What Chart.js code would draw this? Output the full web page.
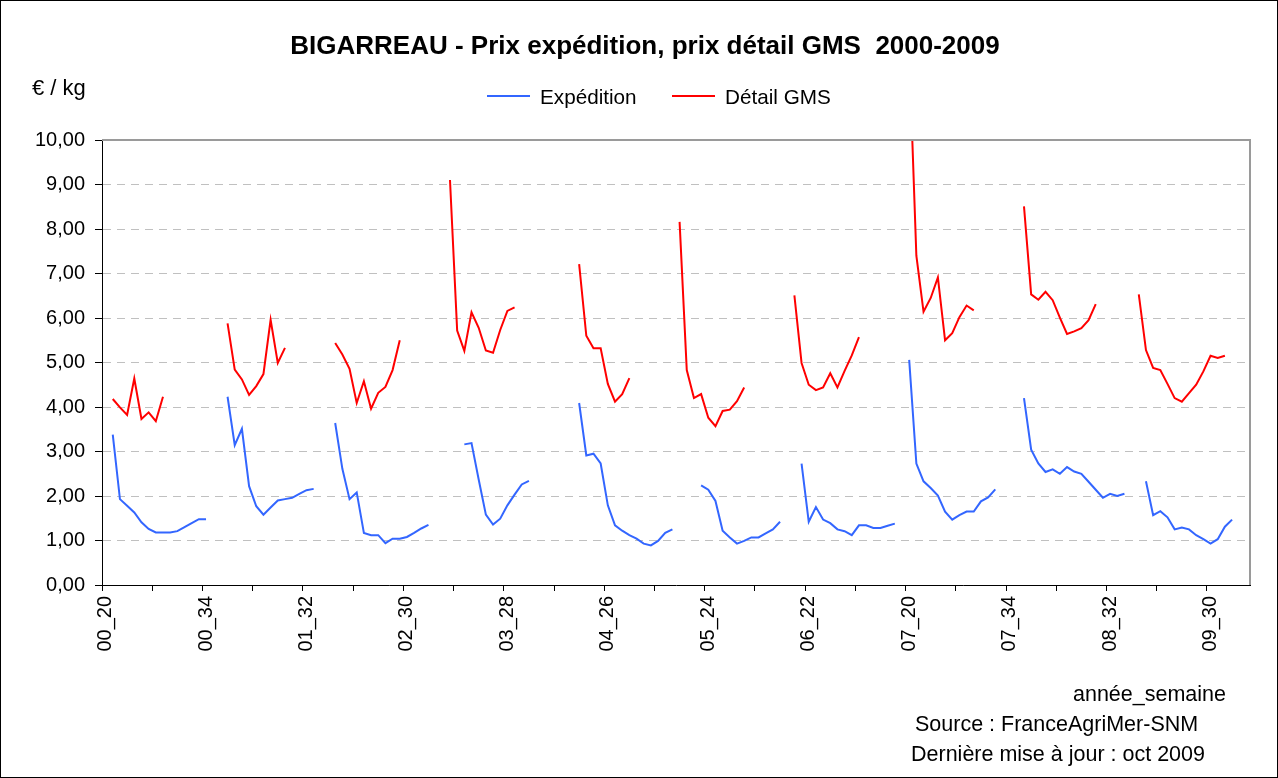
<!DOCTYPE html>
<html>
<head>
<meta charset="utf-8">
<script src="https://cdn.jsdelivr.net/npm/chart.js@4.4.0/dist/chart.umd.min.js"></script>
<style>
  html, body { margin: 0; padding: 0; background: #fff; }
  canvas { display: block; }
</style>
</head>
<body>
<canvas id="bigarreauChart" width="1278" height="778"></canvas>
<script>
// Categories: year prefix + week number (weeks 20 to 35 of each season)
const years = ["00", "01", "02", "03", "04", "05", "06", "07", "08", "09"];
const weeks = [20, 21, 22, 23, 24, 25, 26, 27, 28, 29, 30, 31, 32, 33, 34, 35];
const labelStep = 14; // one x label every 14 weeks
const tickStep = 7;   // one tick mark every 7 weeks

// Expédition price (EUR/kg), weeks 20..35
const exp00 = [null, 3.38, 1.93, 1.78, 1.63, 1.41, 1.26, 1.18, 1.18, 1.18, 1.21, 1.30, 1.39, 1.48, 1.48, null];
const exp01 = [null, 4.23, 3.14, 3.51, 2.22, 1.77, 1.58, 1.74, 1.90, 1.93, 1.96, 2.05, 2.13, 2.16, null, null];
const exp02 = [3.64, 2.61, 1.93, 2.08, 1.17, 1.12, 1.12, 0.94, 1.04, 1.04, 1.08, 1.17, 1.27, 1.35, null, null];
const exp03 = [null, null, 3.16, 3.19, 2.37, 1.58, 1.36, 1.49, 1.79, 2.03, 2.26, 2.34, null, null, null, null];
const exp04 = [null, null, 4.09, 2.91, 2.95, 2.73, 1.79, 1.34, 1.22, 1.12, 1.04, 0.93, 0.89, 0.99, 1.17, 1.25];
const exp05 = [null, null, null, 2.24, 2.14, 1.89, 1.22, 1.07, 0.93, 0.99, 1.07, 1.07, 1.16, 1.25, 1.42, null];
const exp06 = [null, 2.73, 1.42, 1.75, 1.47, 1.39, 1.25, 1.21, 1.12, 1.34, 1.34, 1.28, 1.28, 1.33, 1.38, null];
const exp07 = [5.06, 2.73, 2.33, 2.18, 2.01, 1.65, 1.47, 1.57, 1.65, 1.65, 1.88, 1.97, 2.15, null, null, null];
const exp08 = [4.20, 3.04, 2.73, 2.54, 2.60, 2.50, 2.65, 2.55, 2.50, 2.32, 2.14, 1.96, 2.05, 2.00, 2.05, null];
const exp09 = [null, 2.33, 1.57, 1.66, 1.52, 1.25, 1.29, 1.25, 1.12, 1.03, 0.93, 1.03, 1.31, 1.47, null, null];

// Détail GMS price (EUR/kg), weeks 20..35
const det00 = [null, 4.18, 3.99, 3.82, 4.64, 3.73, 3.88, 3.68, 4.23, null, null, null, null, null, null, null];
const det01 = [null, 5.88, 4.84, 4.62, 4.27, 4.47, 4.74, 5.96, 4.99, 5.33, null, null, null, null, null, null];
const det02 = [5.44, 5.18, 4.86, 4.09, 4.58, 3.96, 4.32, 4.45, 4.83, 5.50, null, null, null, null, null, null];
const det03 = [9.10, 5.72, 5.26, 6.13, 5.78, 5.27, 5.22, 5.73, 6.16, 6.24, null, null, null, null, null, null];
const det04 = [null, null, 7.21, 5.60, 5.32, 5.32, 4.52, 4.12, 4.29, 4.65, null, null, null, null, null, null];
const det05 = [8.16, 4.83, 4.20, 4.29, 3.76, 3.57, 3.91, 3.94, 4.13, 4.44, null, null, null, null, null, null];
const det06 = [6.51, 4.99, 4.50, 4.38, 4.44, 4.76, 4.44, 4.81, 5.16, 5.57, null, null, null, null, null, null];
const det07 = [12.0, 7.40, 6.14, 6.45, 6.91, 5.50, 5.66, 6.02, 6.28, 6.17, null, null, null, null, null, null];
const det08 = [8.51, 6.53, 6.41, 6.59, 6.40, 6.01, 5.64, 5.70, 5.77, 5.95, 6.31, null, null, null, null, null];
const det09 = [6.53, 5.28, 4.88, 4.83, 4.52, 4.20, 4.12, 4.31, 4.50, 4.80, 5.15, 5.10, 5.15, null, null, null];

// y axis range (EUR/kg)
const yMin = 0;
const yMax = 10;
const yStep = 1;

const labels = years.flatMap(y => weeks.map(w => y + "_" + w));
const expedition = [].concat(exp00, exp01, exp02, exp03, exp04, exp05, exp06, exp07, exp08, exp09);
const detail = [].concat(det00, det01, det02, det03, det04, det05, det06, det07, det08, det09);

const FONT = "'Liberation Sans', Arial, sans-serif";
Chart.defaults.font.family = FONT;
Chart.defaults.color = "#000";

// Title, unit, legend, footer and frames drawn around the plot
const decorPlugin = {
    id: "decor",
    afterDraw(chart) {
        const ctx = chart.ctx;
        const area = chart.chartArea;
        ctx.save();

        // outer frame
        ctx.strokeStyle = "#000";
        ctx.lineWidth = 1;
        ctx.strokeRect(0.5, 0.5, chart.width - 1, chart.height - 1);

        // plot area top and right edges
        ctx.strokeStyle = "#9a9a9a";
        ctx.lineWidth = 2;
        ctx.beginPath();
        ctx.moveTo(area.left, area.top);
        ctx.lineTo(area.right, area.top);
        ctx.lineTo(area.right, area.bottom);
        ctx.stroke();

        ctx.fillStyle = "#000";
        ctx.textBaseline = "alphabetic";

        // title
        ctx.font = "bold 26px " + FONT;
        ctx.textAlign = "center";
        ctx.fillText("BIGARREAU - Prix expédition, prix détail GMS  2000-2009", 645, 54);

        // unit
        ctx.font = "22px " + FONT;
        ctx.textAlign = "left";
        ctx.fillText("€ / kg", 32, 95);

        // legend
        ctx.font = "20.7px " + FONT;
        const legendX = [487, 672];
        chart.data.datasets.forEach((ds, i) => {
            const x = legendX[i];
            ctx.strokeStyle = ds.borderColor;
            ctx.lineWidth = 2;
            ctx.beginPath();
            ctx.moveTo(x, 96);
            ctx.lineTo(x + 43, 96);
            ctx.stroke();
            ctx.fillText(ds.label, x + 53, 104);
        });

        // footer
        ctx.font = "21.5px " + FONT;
        ctx.fillText("année_semaine", 1073, 701);
        ctx.fillText("Source : FranceAgriMer-SNM", 915, 731);
        ctx.fillText("Dernière mise à jour : oct 2009", 911, 761);

        ctx.restore();
    },
};

const chartCtx = document.getElementById("bigarreauChart").getContext("2d");
new Chart(chartCtx, {
    type: "line",
    data: {
        labels: labels,
        datasets: [
            {
                label: "Expédition",
                data: expedition,
                borderColor: "#3366ff",
                borderWidth: 2,
                pointRadius: 0,
                tension: 0,
                spanGaps: false,
            },
            {
                label: "Détail GMS",
                data: detail,
                borderColor: "#ff0000",
                borderWidth: 2,
                pointRadius: 0,
                tension: 0,
                spanGaps: false,
            },
        ],
    },
    options: {
        responsive: false,
        animation: false,
        devicePixelRatio: 1,
        layout: { padding: { left: 0, right: 28, top: 140, bottom: 0 } },
        plugins: {
            legend: { display: false },
            title: { display: false },
            tooltip: { enabled: false },
        },
        scales: {
            x: {
                offset: true,
                grid: {
                    offset: true,
                    drawOnChartArea: false,
                    tickLength: 6,
                    color: c => (c.index !== undefined && c.index % tickStep === 0) ? "#000" : "rgba(0,0,0,0)",
                },
                border: { color: "#000", width: 1 },
                ticks: {
                    autoSkip: false,
                    minRotation: 90,
                    maxRotation: 90,
                    padding: 5,
                    font: { size: 20 },
                    callback: (v, i) => (i % labelStep === 0 ? labels[i] : ""),
                },
                afterFit: s => { s.height = 193; },
            },
            y: {
                min: yMin,
                max: yMax,
                ticks: {
                    stepSize: yStep,
                    padding: 10,
                    font: { size: 20 },
                    callback: v => v.toFixed(2).replace(".", ","),
                },
                grid: {
                    color: c => (c.tick && (c.tick.value === yMin || c.tick.value === yMax)) ? "rgba(0,0,0,0)" : "#c0c0c0",
                    tickColor: "#000",
                    tickLength: 7,
                    lineWidth: 1,
                },
                border: { color: "#000", width: 1, dash: [8, 6] },
                afterFit: s => { s.width = 102; },
            },
        },
    },
    plugins: [decorPlugin],
});
</script>
</body>
</html>
